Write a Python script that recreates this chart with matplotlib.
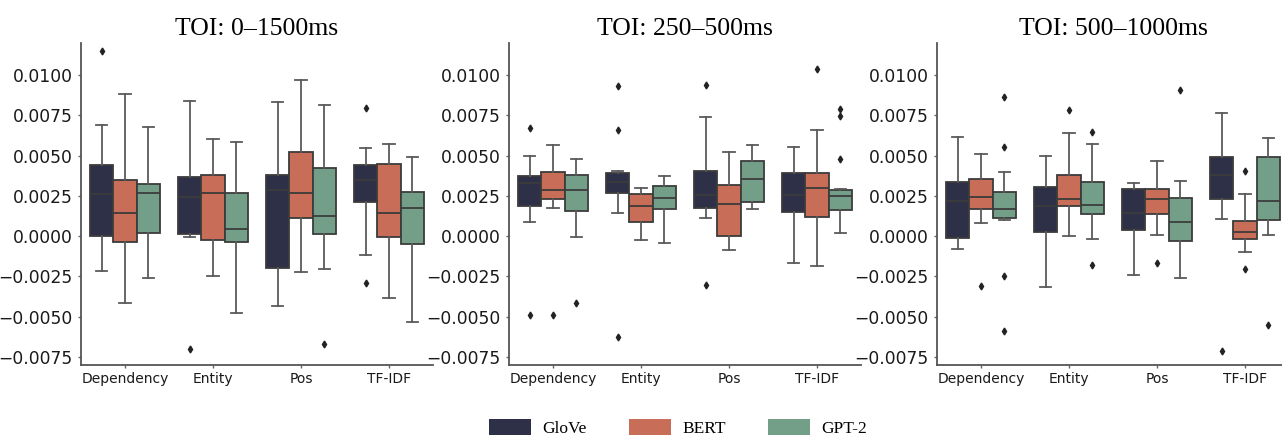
"""Box plots of encoding scores per feature type for three time windows."""
import matplotlib
matplotlib.use("Agg")
import matplotlib.pyplot as plt
from matplotlib.patches import Patch

categories = ["Dependency", "Entity", "Pos", "TF-IDF"]
models = ["GloVe", "BERT", "GPT-2"]
colors = ["#2e3047", "#c86e58", "#739e88"]
titles = ["TOI: 0\u20131500ms", "TOI: 250\u2013500ms", "TOI: 500\u20131000ms"]

# each stat: rows = models (GloVe, BERT, GPT-2), cols = categories
# --- TOI 0-1500ms
q1_a = [[0.0, 0.00012, -0.00199, 0.00215],
        [-0.00037, -0.00021, 0.00116, -0.00004],
        [0.00017, -0.00033, 0.00012, -0.00046]]
med_a = [[0.00265, 0.00246, 0.00284, 0.00352],
         [0.00147, 0.00267, 0.00267, 0.00141],
         [0.00271, 0.00043, 0.00126, 0.00178]]
q3_a = [[0.00445, 0.00366, 0.00379, 0.00441],
        [0.00352, 0.00383, 0.00526, 0.00449],
        [0.00325, 0.00269, 0.00424, 0.00277]]
lo_a = [[-0.00215, -0.00008, -0.00433, -0.00116],
        [-0.00416, -0.00248, -0.00221, -0.00385],
        [-0.00257, -0.0048, -0.00201, -0.0053]]
hi_a = [[0.00689, 0.0084, 0.00836, 0.00546],
        [0.00886, 0.00604, 0.00973, 0.00573],
        [0.00681, 0.00586, 0.00816, 0.00489]]
fl_a = [[[0.01149], [-0.0070], [], [0.00797, -0.00288]],
        [[], [], [], []],
        [[], [], [-0.00667], []]]

# --- TOI 250-500ms
q1_b = [[0.00188, 0.00269, 0.00178, 0.00153],
        [0.00228, 0.00089, 0.0, 0.00122],
        [0.00159, 0.00166, 0.00215, 0.00161]]
med_b = [[0.00333, 0.00339, 0.00253, 0.00253],
         [0.00284, 0.0019, 0.00199, 0.003],
         [0.0029, 0.00236, 0.00354, 0.00248]]
q3_b = [[0.00371, 0.00395, 0.00404, 0.00393],
        [0.004, 0.00261, 0.00315, 0.00395],
        [0.00381, 0.00311, 0.0047, 0.00288]]
lo_b = [[0.00089, 0.00141, 0.00116, -0.00166],
        [0.00178, -0.00021, -0.00085, -0.00184],
        [-0.00008, -0.00043, 0.0017, 0.00017]]
hi_b = [[0.00499, 0.00406, 0.00743, 0.00557],
        [0.00567, 0.003, 0.00522, 0.00658],
        [0.00482, 0.00373, 0.00569, 0.00294]]
fl_b = [[[0.00671, -0.00491], [0.00934, 0.00662, -0.00625], [0.00938, -0.00302], []],
        [[-0.00491], [], [], [0.01041]],
        [[-0.00418], [], [], [0.00787, 0.00749, 0.00478]]]

# --- TOI 500-1000ms
q1_c = [[-0.00012, 0.00025, 0.00039, 0.00228],
        [0.00166, 0.00188, 0.00139, -0.00017],
        [0.00112, 0.00135, -0.00027, 0.00099]]
med_c = [[0.00219, 0.0019, 0.00147, 0.00383],
         [0.00246, 0.0023, 0.00228, 0.00029],
         [0.00166, 0.00195, 0.00091, 0.00221]]
q3_c = [[0.00337, 0.00308, 0.00292, 0.00491],
        [0.00356, 0.00381, 0.00294, 0.00095],
        [0.00275, 0.00335, 0.0024, 0.00489]]
lo_c = [[-0.00079, -0.00315, -0.00244, 0.00106],
        [0.00081, 0.00004, 0.0001, -0.00099],
        [0.00101, -0.00019, -0.00257, 0.00008]]
hi_c = [[0.00615, 0.00501, 0.00329, 0.00768],
        [0.00513, 0.00642, 0.00468, 0.00261],
        [0.00397, 0.00573, 0.00342, 0.00609]]
fl_c = [[[], [], [], [-0.00716]],
        [[-0.00308], [0.00782], [-0.00168], [0.00406, -0.00205]],
        [[0.00863, 0.00551, -0.00246, -0.00586], [0.00648, -0.0018], [0.00907], [-0.00549]]]

yticks = [-0.0075, -0.005, -0.0025, 0.0, 0.0025, 0.005, 0.0075, 0.01]

panels = [
    (q1_a, med_a, q3_a, lo_a, hi_a, fl_a),
    (q1_b, med_b, q3_b, lo_b, hi_b, fl_b),
    (q1_c, med_c, q3_c, lo_c, hi_c, fl_c),
]

W, H = 1282, 438
fig = plt.figure(figsize=(W / 100, H / 100), dpi=100)
lefts = [81, 509, 937]
ax_w = 352
edge_col = "#3c3c3c"
whisk_col = "#5a5a5a"
box_w = 0.8 / 3

for p, (q1, med, q3, lo, hi, fl) in enumerate(panels):
    ax = fig.add_axes([lefts[p] / W, 1 - 365 / H, ax_w / W, 322 / H])
    for m in range(3):
        stats = []
        for c in range(4):
            stats.append(dict(q1=q1[m][c], med=med[m][c], q3=q3[m][c],
                              whislo=lo[m][c], whishi=hi[m][c], fliers=fl[m][c]))
        pos = [c + (m - 1) * box_w for c in range(4)]
        ax.bxp(stats, positions=pos, widths=box_w, patch_artist=True,
               manage_ticks=False,
               boxprops=dict(facecolor=colors[m], edgecolor=edge_col, linewidth=1.3),
               medianprops=dict(color=edge_col, linewidth=1.3),
               whiskerprops=dict(color=whisk_col, linewidth=1.3),
               capprops=dict(color=whisk_col, linewidth=1.3),
               flierprops=dict(marker="d", markersize=3.5, markerfacecolor="#222222",
                               markeredgecolor="#222222"))
    ax.set_xlim(-0.5, 3.5)
    ax.set_ylim(-0.0080, 0.0120)
    ax.set_yticks(yticks)
    ax.set_yticklabels([f"{v:.4f}".replace("-", "\u2212") for v in yticks])
    ax.set_xticks(range(4))
    ax.set_xticklabels(categories)
    ax.tick_params(axis="y", labelsize=12.3, length=2, width=1, pad=4,
                   color="#666666", labelcolor="#1a1a1a")
    ax.tick_params(axis="x", labelsize=10, length=2, width=1, pad=3,
                   color="#666666", labelcolor="#1a1a1a")
    for s in ["top", "right"]:
        ax.spines[s].set_visible(False)
    for s in ["left", "bottom"]:
        ax.spines[s].set_color("#555555")
        ax.spines[s].set_linewidth(1.3)
    ax.set_title(titles[p], fontsize=18.5, family="Liberation Serif", pad=6)

handles = [Patch(facecolor=c, edgecolor="none") for c in colors]
fig.legend(handles, models, loc="center", bbox_to_anchor=(678 / W, 1 - 428 / H),
           ncol=3, frameon=False, prop=dict(family="Liberation Serif", size=12.5),
           handlelength=2.4, handleheight=1.0, handletextpad=0.65,
           columnspacing=2.45, borderaxespad=0)

fig.savefig("out.png", dpi=100)
